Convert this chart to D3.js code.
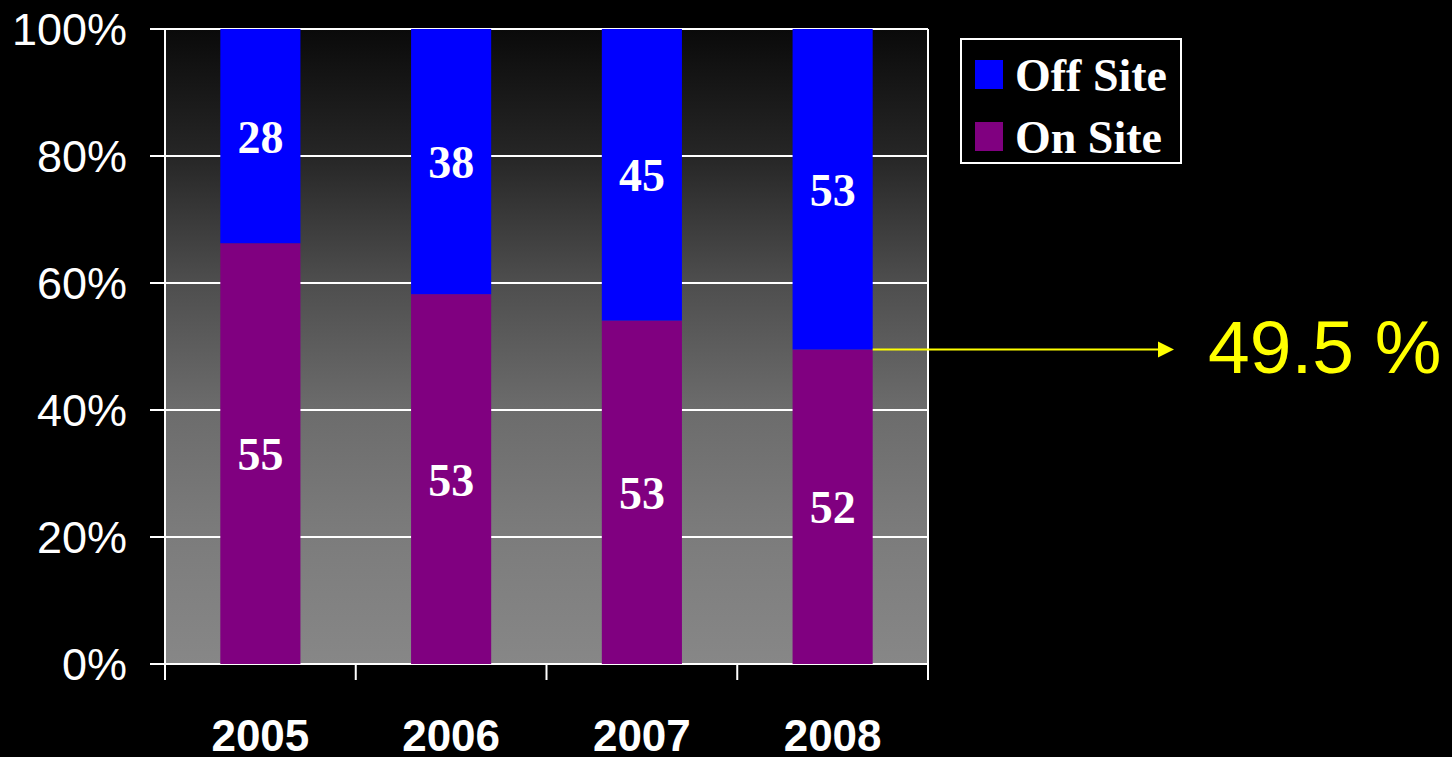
<!DOCTYPE html>
<html>
<head>
<meta charset="utf-8">
<script src="https://cdn.jsdelivr.net/npm/d3@7"></script>
<style>
  html, body { margin: 0; padding: 0; background: #000; }
  svg { display: block; }
</style>
</head>
<body>
<div id="chart"></div>
<script>
// data
const years = ["2005", "2006", "2007", "2008"];
const onSite = [55, 53, 53, 52];
const offSite = [28, 38, 45, 53];
const seriesNames = ["On Site", "Off Site"];
const yTicks = [0, 0.2, 0.4, 0.6, 0.8, 1];
const calloutYear = "2008";
const calloutLabel = "49.5 %";

const W = 1452, H = 757;
const margin = { left: 165, right: 524, top: 29, bottom: 93 };
const colors = { "On Site": "#800080", "Off Site": "#0000ff" };

const svg = d3.select("#chart").append("svg")
    .attr("width", W)
    .attr("height", H);

svg.append("rect").attr("width", W).attr("height", H).attr("fill", "#000");

const x = d3.scaleBand()
    .domain(years)
    .range([margin.left, W - margin.right])
    .paddingInner(0.58)
    .paddingOuter(0.29);

const y = d3.scaleLinear()
    .domain([0, 1])
    .range([H - margin.bottom, margin.top]);

// background gradient of the plot area
const grad = svg.append("defs").append("linearGradient")
    .attr("id", "bg")
    .attr("x1", 0).attr("y1", 0).attr("x2", 0).attr("y2", 1);
[[0, "#0a0a0a"], [0.2, "#262626"], [0.4, "#4e4e4e"], [0.6, "#6c6c6c"], [0.8, "#7c7c7c"], [1, "#878787"]]
    .forEach(([o, c]) => grad.append("stop").attr("offset", o).attr("stop-color", c));

const plotLeft = margin.left, plotRight = W - margin.right;
svg.append("rect")
    .attr("x", plotLeft)
    .attr("y", y(1))
    .attr("width", plotRight - plotLeft)
    .attr("height", y(0) - y(1))
    .attr("fill", "url(#bg)");

// gridlines + y axis ticks
svg.append("g")
    .selectAll("line")
    .data(yTicks)
    .join("line")
    .attr("x1", plotLeft - 15)
    .attr("x2", plotRight)
    .attr("y1", d => y(d))
    .attr("y2", d => y(d))
    .attr("stroke", "#fff")
    .attr("stroke-width", 2);

svg.append("g")
    .selectAll("text")
    .data(yTicks)
    .join("text")
    .attr("x", 127)
    .attr("y", d => y(d))
    .attr("dy", "0.36em")
    .attr("text-anchor", "end")
    .attr("fill", "#fff")
    .style("font-family", "'Liberation Sans', Arial, sans-serif")
    .style("font-size", "45px")
    .text(d => d3.format(".0%")(d));

// stacked bars
const rows = years.map((yr, i) => ({ year: yr, "On Site": onSite[i], "Off Site": offSite[i] }));
const stack = d3.stack().keys(seriesNames).offset(d3.stackOffsetExpand);
const layers = stack(rows);

const gBars = svg.append("g");
layers.forEach((layer, li) => {
    const raw = li === 0 ? onSite : offSite;
    const g = gBars.append("g");
    g.selectAll("rect")
        .data(layer)
        .join("rect")
        .attr("x", d => x(d.data.year))
        .attr("y", d => y(d[1]))
        .attr("width", x.bandwidth())
        .attr("height", d => y(d[0]) - y(d[1]))
        .attr("fill", colors[layer.key]);
    g.selectAll("text")
        .data(layer)
        .join("text")
        .attr("x", d => x(d.data.year) + x.bandwidth() / 2)
        .attr("y", d => (y(d[0]) + y(d[1])) / 2)
        .attr("dy", "0.36em")
        .attr("text-anchor", "middle")
        .attr("fill", "#fff")
        .style("font-family", "'Liberation Serif', 'Times New Roman', serif")
        .style("font-weight", "bold")
        .style("font-size", "46px")
        .text((d, i) => raw[i]);
});

// axes lines
svg.append("line")
    .attr("x1", plotLeft).attr("x2", plotLeft)
    .attr("y1", y(1)).attr("y2", y(0) + 16)
    .attr("stroke", "#fff").attr("stroke-width", 2);
svg.append("line")
    .attr("x1", plotRight).attr("x2", plotRight)
    .attr("y1", y(1)).attr("y2", y(0) + 16)
    .attr("stroke", "#fff").attr("stroke-width", 2);

// x category boundary ticks
const bounds = d3.range(years.length + 1).map(i => plotLeft + i * (plotRight - plotLeft) / years.length);
svg.append("g")
    .selectAll("line")
    .data(bounds)
    .join("line")
    .attr("x1", d => d).attr("x2", d => d)
    .attr("y1", y(0)).attr("y2", y(0) + 16)
    .attr("stroke", "#fff").attr("stroke-width", 2);

svg.append("g")
    .selectAll("text")
    .data(years)
    .join("text")
    .attr("x", d => x(d) + x.bandwidth() / 2)
    .attr("y", 751)
    .attr("text-anchor", "middle")
    .attr("fill", "#fff")
    .style("font-family", "'Liberation Sans', Arial, sans-serif")
    .style("font-weight", "bold")
    .style("font-size", "44px")
    .text(d => d);

// legend
const legend = svg.append("g");
legend.append("rect")
    .attr("x", 961).attr("y", 39)
    .attr("width", 220).attr("height", 124)
    .attr("fill", "#000")
    .attr("stroke", "#fff").attr("stroke-width", 2);
["Off Site", "On Site"].forEach((name, i) => {
    const cy = 75 + i * 62;
    legend.append("rect")
        .attr("x", 975).attr("y", cy - 15)
        .attr("width", 28).attr("height", 29)
        .attr("fill", colors[name]);
    legend.append("text")
        .attr("x", 1015).attr("y", cy)
        .attr("dy", "0.35em")
        .attr("fill", "#fff")
        .style("font-family", "'Liberation Serif', 'Times New Roman', serif")
        .style("font-weight", "bold")
        .style("font-size", "46px")
        .text(name);
});

// callout arrow
const ci = years.indexOf(calloutYear);
const calloutY = y(layers[0][ci][1]);
const x0 = x(calloutYear) + x.bandwidth();
svg.append("line")
    .attr("x1", x0).attr("x2", 1160)
    .attr("y1", calloutY).attr("y2", calloutY)
    .attr("stroke", "#ffff00").attr("stroke-width", 2);
svg.append("path")
    .attr("d", `M1158,${calloutY - 8} L1174,${calloutY} L1158,${calloutY + 8} Z`)
    .attr("fill", "#ffff00");
svg.append("text")
    .attr("x", 1208).attr("y", 373)
    .attr("fill", "#ffff00")
    .style("font-family", "'Liberation Sans', Arial, sans-serif")
    .style("font-size", "75px")
    .text(calloutLabel);
</script>
</body>
</html>
